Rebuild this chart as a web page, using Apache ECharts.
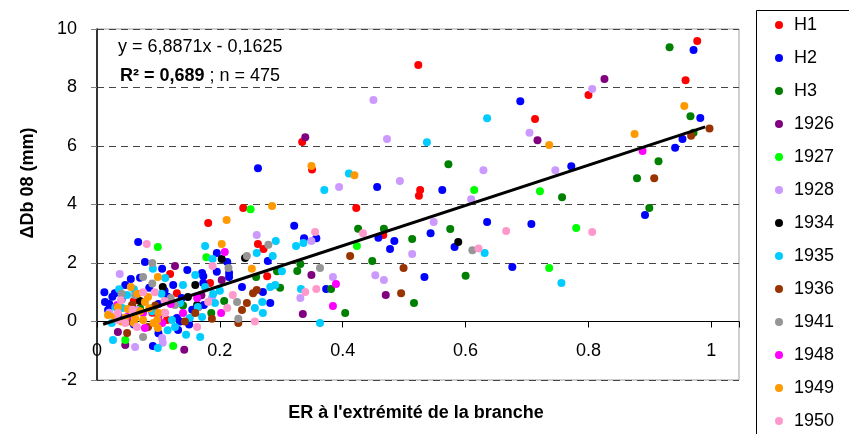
<!DOCTYPE html>
<html>
<head>
<meta charset="utf-8">
<script src="https://cdn.jsdelivr.net/npm/echarts@6/dist/echarts.min.js"></script>
<style>
html,body{margin:0;padding:0;background:#fff;}
#chart{width:849px;height:434px;}
</style>
</head>
<body>
<div id="chart"></div>
<script>
// ---- data (x = ER, y = ΔDb 08 in mm) ----
var seriesNames = ['H1','H2','H3','1926','1927','1928','1934','1935','1936','1941','1948','1949','1950'];
var seriesColors = ['#FF0000','#0000FF','#008000','#800080','#00FF00','#CC99FF','#000000','#00CCFF','#993300','#969696','#FF00FF','#FF9900','#FF99CC'];

var H1 = [[0.523,8.77],[0.977,9.59],[0.80,7.74],[0.958,8.25],[0.713,6.92],[0.526,4.5],[0.524,4.3],[0.35,5.2],[0.422,3.88],[0.466,2.96],[0.334,6.14],[0.238,3.88],[0.181,3.37],[0.262,2.65],[0.271,2.48],[0.119,1.62],[0.114,0.05],[0.184,1.32],[0.277,1.55],[0.13,0.97],[0.165,0.5],[0.06,0.7],[0.09,0.3]];
var H2 = [[0.971,9.28],[0.689,7.53],[0.982,6.96],[0.953,6.24],[0.941,5.94],[0.772,5.31],[0.562,4.5],[0.892,3.64],[0.635,3.4],[0.707,3.33],[0.543,3.02],[0.582,2.55],[0.676,1.86],[0.533,1.52],[0.456,4.6],[0.321,3.27],[0.458,2.86],[0.484,2.75],[0.477,2.48],[0.337,2.85],[0.357,2.85],[0.373,1.11],[0.262,5.24],[0.195,2.34],[0.212,2.03],[0.278,2.07],[0.171,1.66],[0.195,1.7],[0.215,1.66],[0.067,2.72],[0.078,2.03],[0.106,1.8],[0.147,1.76],[0.124,1.25],[0.173,1.32],[0.046,1.25],[0.029,0.97],[0.013,0.67],[0.018,0.39],[0.13,0.12],[0.132,-0.29],[0.091,-0.84],[0.138,0.8],[0.135,0],[0.173,1.55],[0.215,1.52],[0.236,1.18],[0.27,1.01],[0.174,0.56],[0.282,0.63],[0.04,0.75],[0.02,0.6],[0.07,1.5],[0.11,1.05],[0.155,0.4],[0.06,-0.1],[0.1,0.6],[0.012,1.0],[0.025,0.85],[0.085,1.15],[0.115,0.85],[0.15,-0.1],[0.055,1.45],[0.1,-0.4],[0.035,0.2]];
var H3 = [[0.932,9.38],[0.966,7.02],[0.971,6.45],[0.914,5.48],[0.879,4.9],[0.572,5.38],[0.757,4.25],[0.899,3.88],[0.575,3.16],[0.513,2.82],[0.6,1.56],[0.516,0.63],[0.425,3.17],[0.467,3.17],[0.448,2.07],[0.331,1.97],[0.326,1.73],[0.381,1.11],[0.404,0.29],[0.293,1.72],[0.259,1.52],[0.298,1.15],[0.207,0.7],[0.186,0.29],[0.07,0.45],[0.14,0.55]];
var Y1926 = [[0.826,8.29],[0.717,6.2],[0.47,0.91],[0.349,1.59],[0.335,0.26],[0.339,6.3],[0.127,1.9],[0.203,1.42],[0.034,-0.36],[0.046,-0.8],[0.142,-0.97],[0.17,0.9]];
var Y1927 = [[0.614,4.5],[0.721,4.45],[0.78,3.2],[0.736,1.83],[0.423,2.58],[0.25,3.84],[0.178,2.2],[0.099,2.55],[0.046,-0.63],[0.124,-0.84]];
var Y1928 = [[0.806,7.95],[0.704,6.45],[0.629,5.17],[0.746,5.17],[0.493,4.8],[0.609,4.18],[0.548,3.4],[0.513,2.31],[0.45,7.57],[0.472,6.24],[0.394,4.6],[0.349,2.75],[0.453,1.58],[0.467,1.42],[0.384,1.52],[0.331,0.8],[0.26,2.96],[0.037,1.62],[0.065,0.39],[0.062,-0.87],[0.106,-0.56],[0.107,-0.73],[0.187,0.8],[0.02,0.3]];
var Y1934 = [[0.588,2.72],[0.203,2.14],[0.241,2.17],[0.107,1.18],[0.16,1.25],[0.148,0.84],[0.163,0.56],[0.07,0.7]];
var Y1935 = [[0.635,6.95],[0.537,6.13],[0.631,2.34],[0.756,1.32],[0.41,5.06],[0.37,4.5],[0.324,2.58],[0.336,2.68],[0.332,1.11],[0.363,-0.05],[0.176,2.58],[0.291,2.75],[0.26,2.34],[0.188,2.14],[0.286,2.24],[0.301,1.72],[0.091,1.8],[0.111,1.49],[0.14,1.25],[0.16,1.59],[0.049,0.91],[0.041,0.46],[0.024,-0.05],[0.122,0.05],[0.127,-0.19],[0.164,0.5],[0.151,0.12],[0.135,0.63],[0.026,-0.63],[0.099,-0.91],[0.176,1.18],[0.282,1.18],[0.29,1.25],[0.189,0.94],[0.192,0.63],[0.269,0.67],[0.257,0.46],[0.27,0.29],[0.171,0.15],[0.168,-0.53],[0.06,1.1],[0.09,0.35],[0.091,0.46],[0.03,0.5],[0.115,-0.3],[0.145,-0.45],[0.2,1.05],[0.105,0.95],[0.036,1.1]];
var Y1936 = [[0.967,6.35],[0.997,6.6],[0.907,4.9],[0.499,1.83],[0.495,0.97],[0.412,2.24],[0.057,0.56],[0.05,0],[0.083,-0.19],[0.16,0.29],[0.143,0],[0.049,-0.39],[0.254,0.97],[0.26,1.08],[0.244,0.63],[0.236,0.39],[0.187,0.09],[0.23,-0.05],[0.095,0.55]];
var Y1941 = [[0.611,2.44],[0.363,1.83],[0.279,2.62],[0.244,2.24],[0.214,1.83],[0.09,2.0],[0.075,1.52],[0.062,0.91],[0.09,1.3],[0.075,-0.53],[0.228,0.67],[0.23,0.09],[0.12,0.8],[0.127,0.56],[0.04,0.95]];
var Y1948 = [[0.888,5.83],[0.389,1.28],[0.384,0.53],[0.208,2.38],[0.033,0.56],[0.075,0.29],[0.078,-0.22],[0.106,-0.05],[0.14,0.29],[0.163,0.8],[0.202,0.29],[0.1,0.15],[0.049,0.15],[0.12,0.6]];
var Y1949 = [[0.956,7.37],[0.875,6.41],[0.736,6.03],[0.349,5.32],[0.419,5.0],[0.285,3.95],[0.211,3.47],[0.203,2.65],[0.252,1.8],[0.099,1.52],[0.055,1.18],[0.083,0.84],[0.078,0.67],[0.05,0.43],[0.018,0.22],[0.029,0.15],[0.046,0.12],[0.062,0.12],[0.075,0.05],[0.099,-0.22],[0.098,0.05],[0.07,0.35],[0.04,0.0],[0.11,0.3],[0.06,-0.05],[0.085,0.45],[0.034,0.5],[0.1,0.29],[0.066,0.95],[0.092,-0.05]];
var Y1950 = [[0.666,3.09],[0.806,3.06],[0.621,2.5],[0.433,3.02],[0.355,3.06],[0.339,1.01],[0.357,1.11],[0.081,2.65],[0.188,1.9],[0.075,1.0],[0.094,1.0],[0.034,0.29],[0.046,-0.05],[0.065,-0.19],[0.111,0.29],[0.163,-0.19],[0.221,0.91],[0.181,0.67],[0.212,0.46],[0.257,0],[0.039,0.73],[0.034,0.05],[0.11,0.7],[0.058,0.4]];

var seriesData = [H1,H2,H3,Y1926,Y1927,Y1928,Y1934,Y1935,Y1936,Y1941,Y1948,Y1949,Y1950];

// regression shown on the chart
var trendSlope = 6.8871;
var trendIntercept = -0.1625;
var trendRangeX = [0.01, 0.99];

var xTicks = [0, 0.2, 0.4, 0.6, 0.8, 1];
var yTicks = [-2, 0, 2, 4, 6, 8, 10];

var FONT = 'Liberation Sans, Arial, sans-serif';

var series = seriesNames.map(function (n, i) {
  return {
    name: n, type: 'scatter', data: seriesData[i],
    symbol: 'circle', symbolSize: 8,
    itemStyle: { color: seriesColors[i], opacity: 1 },
    z: 3, silent: true
  };
});
series.push({
  name: 'trend', type: 'line',
  data: trendRangeX.map(function (x) { return [x, trendSlope * x + trendIntercept]; }),
  showSymbol: false, symbol: 'none',
  lineStyle: { color: '#000', width: 3 }, z: 5, silent: true
});

var chart = echarts.init(document.getElementById('chart'), null, { renderer: 'canvas' });
var gridTop = 29, gridBottom = 54, plotH = 434 - gridTop - gridBottom;
// position of y = 0 measured from the bottom of the plot
var zeroOffset = plotH * (0 - yTicks[0]) / (yTicks[yTicks.length - 1] - yTicks[0]);
chart.setOption({
  animation: false,
  backgroundColor: '#fff',
  grid: { left: 97, top: gridTop, right: 110, bottom: gridBottom, show: true, borderColor: '#a0a0a0', borderWidth: 1, backgroundColor: 'transparent' },
  xAxis: {
    type: 'value', min: 0, max: 1.045, interval: 0.2,
    offset: -zeroOffset,
    axisLine: { show: true, onZero: false, lineStyle: { color: '#000', width: 1 } },
    axisTick: { show: true, length: 6, lineStyle: { color: '#000' } },
    axisLabel: {
      margin: 21, fontSize: 18, color: '#000', fontFamily: FONT,
      formatter: function (v) {
        for (var k = 0; k < xTicks.length; k++) { if (Math.abs(v - xTicks[k]) < 1e-6) return String(xTicks[k]); }
        return '';
      }
    },
    splitLine: { show: false }
  },
  yAxis: {
    type: 'value', min: yTicks[0], max: yTicks[yTicks.length - 1], interval: 2,
    axisLine: { show: true, onZero: false, lineStyle: { color: '#000', width: 1.5 } },
    axisTick: { show: true, length: 6, lineStyle: { color: '#808080' } },
    axisLabel: { margin: 20, fontSize: 18, color: '#000', fontFamily: FONT },
    splitLine: { show: true, lineStyle: { color: '#444', type: [7, 5], width: 1 } }
  },
  legend: {
    orient: 'vertical', left: 775, top: 15, padding: 0,
    itemWidth: 8, itemHeight: 8, itemGap: 13,
    icon: 'circle',
    data: seriesNames,
    textStyle: { fontSize: 18, color: '#000', fontFamily: FONT, lineHeight: 20, padding: [0, 0, 0, 6] }
  },
  graphic: [
    { type: 'rect', shape: { x: 756.5, y: 10.5, width: 120, height: 440 }, style: { fill: 'none', stroke: '#000', lineWidth: 1 }, z: 0 },
    { type: 'text', x: 28, y: 183, rotation: Math.PI / 2,
      style: { text: '\u0394Db 08 (mm)', font: 'bold 18px ' + FONT, fill: '#000', textAlign: 'center', textVerticalAlign: 'middle' } },
    { type: 'text', x: 416, y: 413,
      style: { text: "ER \u00e0 l'extr\u00e9mit\u00e9 de la branche", font: 'bold 18px ' + FONT, fill: '#000', textAlign: 'center', textVerticalAlign: 'middle' } },
    { type: 'text', x: 118, y: 47,
      style: { text: 'y = 6,8871x - 0,1625', font: '18px ' + FONT, fill: '#000', textVerticalAlign: 'middle' } },
    { type: 'text', x: 120, y: 76,
      style: { text: '{b|R\u00b2 = 0,689} ; n = 475', font: '18px ' + FONT, fill: '#000', textVerticalAlign: 'middle',
        rich: { b: { fontWeight: 'bold', fontSize: 18, fontFamily: FONT } } } }
  ],
  series: series
});
</script>
</body>
</html>
